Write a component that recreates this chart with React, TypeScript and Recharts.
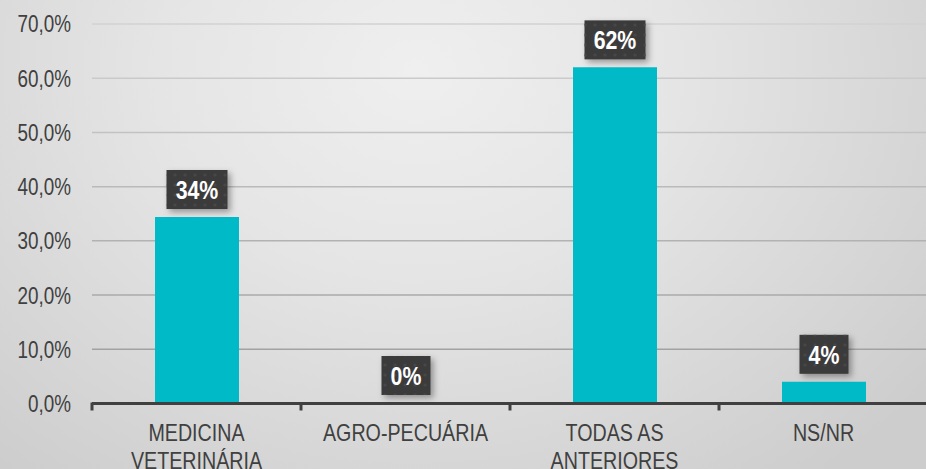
import React from 'react';
import { BarChart, Bar, XAxis, YAxis, CartesianGrid, LabelList } from 'recharts';

const categories = ['MEDICINA VETERINÁRIA', 'AGRO-PECUÁRIA', 'TODAS AS ANTERIORES', 'NS/NR'];
const categoryLines = [['MEDICINA', 'VETERINÁRIA'], ['AGRO-PECUÁRIA'], ['TODAS AS', 'ANTERIORES'], ['NS/NR']];
const values = [34.4, 0, 62, 4];
const yTicks = [0, 10, 20, 30, 40, 50, 60, 70];

const data = categories.map((c, i) => ({ name: c, value: values[i] }));

const FONT = '"Liberation Sans", Arial, sans-serif';
const NARROW = 0.82;
const narrow = (x: number) => `translate(${x},0) scale(${NARROW},1) translate(${-x},0)`;

const YTick = (props: any) => {
  const { y, payload } = props;
  const label = payload.value.toFixed(1).replace('.', ',') + '%';
  return (
    <text x={71} y={y} dy={8.5} transform={narrow(71)} textAnchor="end" fontFamily={FONT} fontSize={23} fill="#404040">
      {label}
    </text>
  );
};

const XTick = (props: any) => {
  const { x, y, payload, index } = props;
  const half = payload.offset || 104.5;
  const lines = categoryLines[index] || [payload.value];
  return (
    <g>
      <line x1={x - half} x2={x - half} y1={y - 9} y2={y - 1} stroke="#404040" strokeWidth={3} />
      {index === categories.length - 1 ? (
        <line x1={x + half} x2={x + half} y1={y - 9} y2={y - 1} stroke="#404040" strokeWidth={3} />
      ) : null}
      {lines.map((l: string, i: number) => (
        <text key={i} x={x} y={y + 30 + i * 28} transform={narrow(x)} textAnchor="middle" fontFamily={FONT} fontSize={24} fill="#404040">
          {l}
        </text>
      ))}
    </g>
  );
};

const BoxLabel = (props: any) => {
  const { x, y, width, value } = props;
  const v = Math.round(Number(value) || 0);
  const text = v + '%';
  const digits = String(v).length;
  const w = 37 + 12 * digits;
  const h = 39;
  const cx = x + width / 2;
  const bottom = y - 8;
  return (
    <g>
      <rect x={cx - w / 2} y={bottom - h} width={w} height={h} fill="#3b3b3b" filter="url(#shadow)" />
      <rect x={cx - w / 2} y={bottom - h} width={w} height={h} fill="url(#dots)" />
      <text x={cx} y={bottom - h / 2} dy={9.5} transform={narrow(cx)} textAnchor="middle" fontFamily={FONT} fontWeight="bold" fontSize={26} fill="#ffffff">
        {text}
      </text>
    </g>
  );
};

export default function App() {
  return (
    <div
      style={{
        position: 'absolute',
        left: 0,
        top: 0,
        width: 926,
        height: 469,
        overflow: 'hidden',
        background: 'radial-gradient(ellipse 70% 110% at 45% 15%, #efefef 0%, #e5e5e5 40%, #cdcdcd 100%)',
      }}
    >
      <BarChart
        width={930}
        height={469}
        data={data}
        margin={{ top: 24, right: 2, left: 0, bottom: 0 }}
      >
        <defs>
          <linearGradient id="gridGrad" gradientUnits="userSpaceOnUse" x1={0} y1={24} x2={0} y2={404}>
            <stop offset="0%" stopColor="#d2d2d2" />
            <stop offset="100%" stopColor="#9a9a9a" />
          </linearGradient>
          <pattern id="dots" width={10} height={10} patternUnits="userSpaceOnUse">
            <circle cx={5} cy={5} r={1.6} fill="#474747" />
          </pattern>
          <filter id="shadow" x="-30%" y="-30%" width="160%" height="160%">
            <feDropShadow dx={3} dy={3} stdDeviation={3} floodColor="#000" floodOpacity={0.35} />
          </filter>
        </defs>
        <CartesianGrid vertical={false} stroke="url(#gridGrad)" strokeWidth={1.5} />
        <YAxis
          width={92}
          domain={[0, 70]}
          ticks={yTicks}
          axisLine={false}
          tickLine={false}
          tick={<YTick />}
          interval={0}
        />
        <XAxis
          dataKey="name"
          height={65.5}
          interval={0}
          axisLine={{ stroke: '#404040', strokeWidth: 3 }}
          tickLine={false}
          tick={<XTick />}
        />
        <Bar dataKey="value" fill="#00BAC8" barSize={84} minPointSize={0.5} isAnimationActive={false}>
          <LabelList dataKey="value" content={<BoxLabel />} />
        </Bar>
      </BarChart>
    </div>
  );
}
